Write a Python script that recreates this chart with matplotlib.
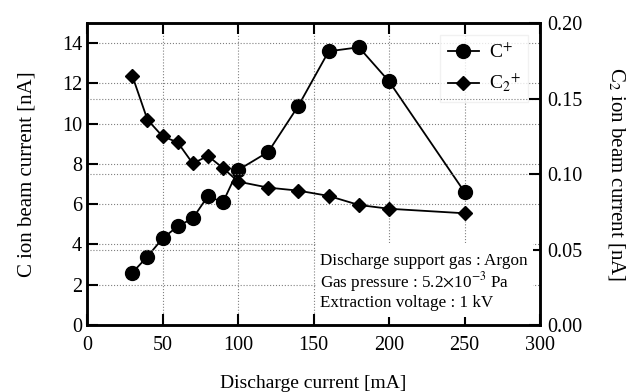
import numpy as np
import matplotlib.pyplot as plt
from matplotlib.lines import Line2D
from matplotlib.patches import Rectangle

plt.rcParams['font.family'] = ['Liberation Serif', 'DejaVu Serif']
plt.rcParams['mathtext.fontset'] = 'stix'

current = [30, 40, 50, 60, 70, 80, 90, 100, 120, 140, 160, 180, 200, 250]
c_plus = [2.6, 3.4, 4.3, 4.9, 5.3, 6.4, 6.1, 7.7, 8.6, 10.9, 13.6, 13.8, 12.1, 6.6]
c2_plus = [0.165, 0.136, 0.125, 0.121, 0.107, 0.112, 0.104, 0.095, 0.091,
           0.089, 0.0855, 0.0795, 0.077, 0.074]
notes = ['Discharge support gas : Argon',
         r'Gas pressure : 5.2$\times$10$^{-3}$ Pa',
         'Extraction voltage : 1 kV']

fig = plt.figure(figsize=(6.4, 3.92), dpi=100)
ax = fig.add_axes([0.136, 0.171, 0.708, 0.770])
ax2 = ax.twinx()

ax.plot(current, c_plus, '-o', color='black', markersize=10, linewidth=1.3)
ax2.plot(current, c2_plus, '-D', color='black', markersize=7.5, linewidth=1.3)

ax.set_xlim(0, 300)
ax.set_ylim(0, 15)
ax2.set_ylim(0, 0.20)
ax.set_xticks(np.arange(0, 301, 50))
ax.set_yticks(np.arange(0, 15, 2))
ax2.set_yticks([0.00, 0.05, 0.10, 0.15, 0.20])
ax2.set_yticklabels(['0.00', '0.05', '0.10', '0.15', '0.20'])

ax.grid(True, linestyle=':', color='gray', linewidth=0.8)
ax2.grid(True, axis='y', linestyle=':', color='gray', linewidth=0.8)

for a in (ax, ax2):
    a.tick_params(direction='in', length=8, width=1.5, labelsize=14.5)
    for s in a.spines.values():
        s.set_linewidth(1.8)
ax.tick_params(top=True)
ax.tick_params(axis='x', pad=8)
ax2.tick_params(axis='y', pad=5)

ax.set_xlabel('Discharge current [mA]', fontsize=14, labelpad=14)
ax.set_ylabel('C ion beam current [nA]', fontsize=15, labelpad=18)
ax2.set_ylabel(r'C$_2$ ion beam current [nA]', fontsize=15, rotation=270, labelpad=32)

handles = [Line2D([], [], color='black', marker='o', markersize=10, linewidth=1.3),
           Line2D([], [], color='black', marker='D', markersize=7.5, linewidth=1.3)]
leg = ax.legend(handles, [r'C$^{+}$', r'C$_2$$^{+}$'], loc='upper right',
                fontsize=14, frameon=True, fancybox=False, edgecolor='#eeeeee',
                handlelength=1.6, handletextpad=0.5, borderaxespad=0.6)

# white box behind the condition notes
ax2.add_patch(Rectangle((0.505, 0.025), 0.48, 0.245, transform=ax.transAxes,
                        facecolor='white', edgecolor='none', zorder=3))
for i, line in enumerate(notes):
    ax2.text(0.515, 0.212 - 0.07 * i, line, transform=ax.transAxes,
             fontsize=12.3, va='center', zorder=4)

fig.savefig('out.png', dpi=100)
